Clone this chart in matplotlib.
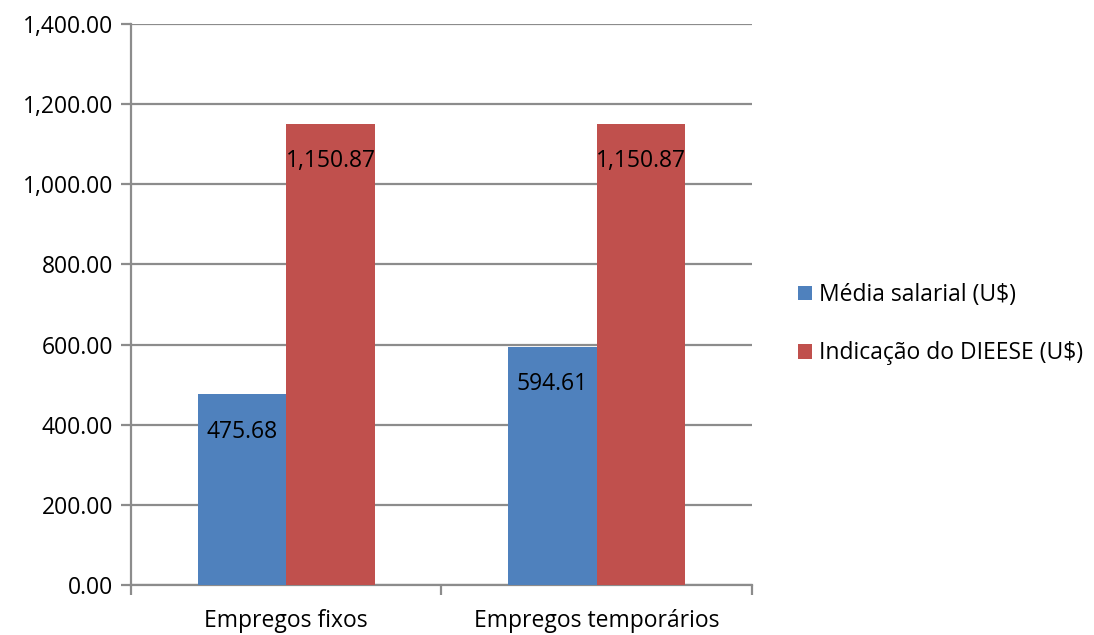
import matplotlib
matplotlib.use('Agg')
import matplotlib.pyplot as plt
import numpy as np

categorias = ["Empregos fixos", "Empregos temporários"]
media_salarial = [475.68, 594.61]
indicacao_dieese = [1150.87, 1150.87]
series_nomes = ["Média salarial (U$)", "Indicação do DIEESE (U$)"]

plt.rcParams['font.family'] = ['Open Sans', 'DejaVu Sans']
cinza = '#8c8c8c'
fs = 16.5

fig = plt.figure(figsize=(10.94, 6.35), dpi=100)
ax = fig.add_axes([0.1197, 0.0787, 0.5677, 0.8835])

x = np.arange(len(categorias))
w = 0.285
b1 = ax.bar(x - w / 2, media_salarial, w, color='#4F81BD', label=series_nomes[0], zorder=3)
b2 = ax.bar(x + w / 2, indicacao_dieese, w, color='#C0504D', label=series_nomes[1], zorder=3)

for barras in (b1, b2):
    for r in barras:
        ax.annotate(f"{r.get_height():,.2f}", (r.get_x() + r.get_width() / 2, r.get_height()),
                    xytext=(0, -27), textcoords='offset points', ha='center', va='center',
                    fontsize=fs, color='black', zorder=4)

ax.set_xlim(-0.5, 1.5)
ax.set_ylim(0, 1400)
ax.set_yticks(np.arange(0, 1401, 200))
ax.yaxis.set_major_formatter(matplotlib.ticker.FuncFormatter(lambda v, p: f"{v:,.2f}"))
ax.set_xticks([-0.5, 0.5, 1.5], minor=False)
ax.set_xticklabels([])
ax.set_xticks(x, minor=True)
ax.set_xticklabels(categorias, minor=True)
ax.tick_params(axis='x', which='minor', length=0, pad=17, labelsize=fs)
ax.tick_params(axis='x', which='major', length=7, width=1.6, color=cinza, direction='out')
ax.tick_params(axis='y', length=7, width=1.6, color=cinza, labelsize=fs, pad=6)

ax.grid(axis='y', color=cinza, linewidth=1.6, zorder=0)
for s in ('top', 'right'):
    ax.spines[s].set_visible(False)
for s in ('left', 'bottom'):
    ax.spines[s].set_color(cinza)
    ax.spines[s].set_linewidth(1.6)

ax.legend(loc='center left', bbox_to_anchor=(1.06, 0.465), frameon=False, fontsize=fs,
          handlelength=0.6, handleheight=0.6, handletextpad=0.3, labelspacing=1.5,
          borderaxespad=0)

plt.savefig('out.png', dpi=100)
